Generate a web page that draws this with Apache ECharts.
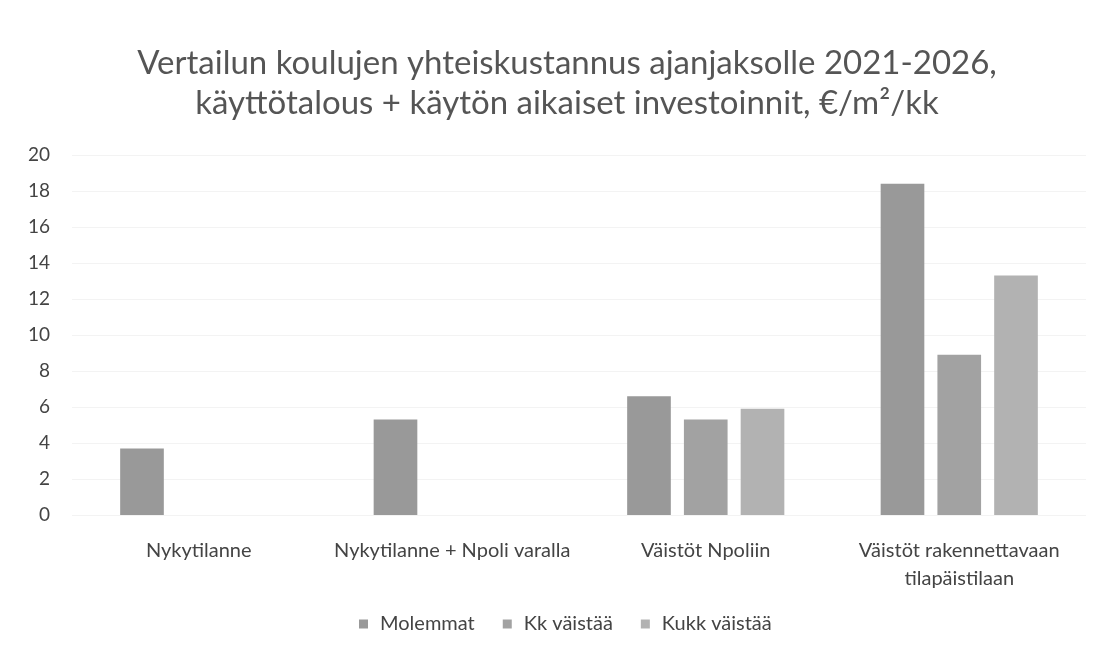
<!DOCTYPE html>
<html>
<head>
<meta charset="utf-8">
<script src="https://cdn.jsdelivr.net/npm/echarts@6/dist/echarts.min.js"></script>
<style>
  html, body { margin: 0; padding: 0; background: #fff; }
  #main { width: 1101px; height: 649px; }
</style>
</head>
<body>
<div id="main"></div>
<script>
// kategoriat ja sarjat
const categories = ['Nykytilanne', 'Nykytilanne + Npoli varalla', 'Väistöt Npoliin', 'Väistöt rakennettavaan\ntilapäistilaan'];
const molemmat = [3.7, 5.3, 6.6, 18.4];
const kkVaistaa = [null, null, 5.3, 8.9];
const kukkVaistaa = [null, null, 5.9, 13.3];
const yTicks = [0, 2, 4, 6, 8, 10, 12, 14, 16, 18, 20];

const font = 'Lato, "Open Sans", sans-serif';
let myChart = echarts.init(document.getElementById('main'));
myChart.setOption({
  animation: false,
  title: {
    text: 'Vertailun koulujen yhteiskustannus ajanjaksolle 2021-2026,\nkäyttötalous + käytön aikaiset investoinnit, €/m²/kk',
    left: 562,
    textAlign: 'center',
    top: 38,
    textStyle: { fontFamily: font, fontSize: 33, fontWeight: 'normal', color: '#555', lineHeight: 40 }
  },
  legend: {
    left: 354,
    bottom: 10,
    itemWidth: 9,
    itemHeight: 9,
    itemGap: 28,
    icon: 'rect',
    textStyle: { fontFamily: font, fontSize: 20, color: '#444', padding: [0, 0, 0, 7] },
    data: ['Molemmat', 'Kk väistää', 'Kukk väistää']
  },
  grid: { left: 72, right: 15, top: 155, bottom: 134 },
  xAxis: {
    type: 'category',
    data: categories,
    axisLine: { show: false },
    axisTick: { show: false },
    axisLabel: { fontFamily: font, fontSize: 20, color: '#444', margin: 22, lineHeight: 28, interval: 0 }
  },
  yAxis: {
    type: 'value',
    min: yTicks[0],
    max: yTicks[yTicks.length - 1],
    interval: 2,
    axisLine: { show: false },
    axisTick: { show: false },
    axisLabel: { fontFamily: font, fontSize: 19, color: '#444', margin: 22 },
    splitLine: { lineStyle: { color: '#f3f3f3' } }
  },
  series: [
    { name: 'Molemmat', type: 'bar', data: molemmat, barGap: '30%', barCategoryGap: '38%', itemStyle: { color: '#999999' } },
    { name: 'Kk väistää', type: 'bar', data: kkVaistaa, itemStyle: { color: '#a2a2a2' } },
    { name: 'Kukk väistää', type: 'bar', data: kukkVaistaa, itemStyle: { color: '#b2b2b2' } }
  ]
});
</script>
</body>
</html>
